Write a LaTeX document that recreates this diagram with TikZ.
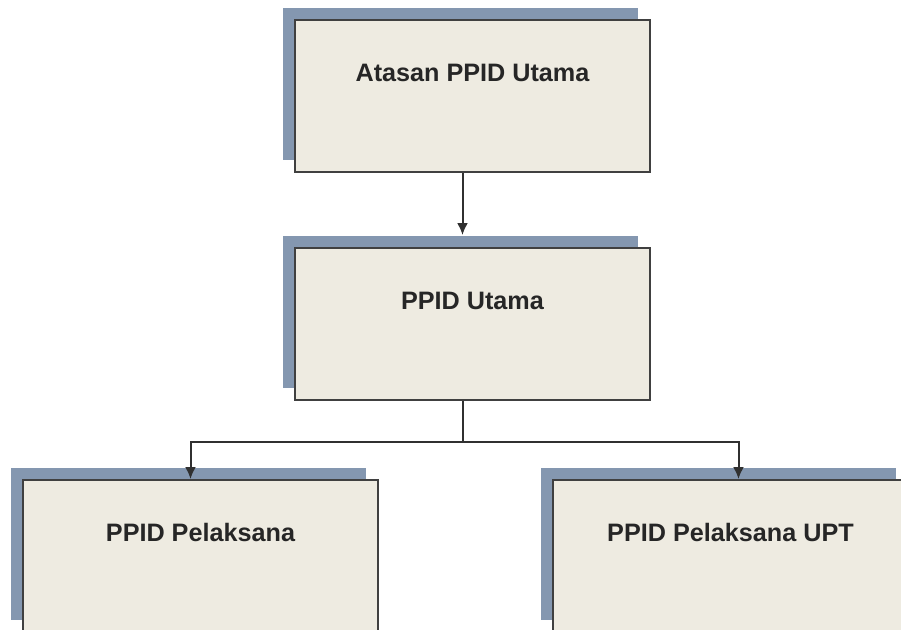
\documentclass[tikz,border=0pt]{standalone}
\usepackage{fontspec}
\setmainfont{Liberation Sans}
\usetikzlibrary{arrows.meta, positioning, shadows}

\definecolor{boxfill}{HTML}{EEEBE1}
\definecolor{boxshadow}{HTML}{8497B0}
\definecolor{boxline}{HTML}{404040}
\definecolor{linkline}{HTML}{303030}

\begin{document}
\begin{tikzpicture}[x=0.5pt, y=-0.5pt]
    \tikzstyle{orgbox}=[draw=boxline, line width=1pt, fill=boxfill, rectangle, minimum width=177.5pt, minimum height=76pt, inner sep=0pt, text height=30.5pt, text depth=45.5pt, text=black!85, font=\fontsize{12.6}{15}\selectfont\bfseries, general shadow={fill=boxshadow, shadow xshift=-6.25pt, shadow yshift=6pt}]
    \tikzstyle{link}=[draw=linkline, line width=1pt]
    \tikzstyle{linkarrow}=[link, -{Latex[length=6pt, width=5.5pt]}]

    \useasboundingbox (0, 0) rectangle (901, 629);
    \clip (0, 0) rectangle (901, 629);

    % Boxes
    \node[orgbox] (atasan) at (472.5, 96) {Atasan PPID Utama};
    \node[orgbox] (utama) at (472.5, 324) {PPID Utama};
    \node[orgbox] (pelaksana) at (200.5, 556) {PPID Pelaksana};
    \node[orgbox] (upt) at (730.5, 556) {PPID Pelaksana UPT};

    % Links
    \draw[linkarrow] ([xshift=-5pt]atasan.south) -- ([xshift=-5pt, yshift=6pt]utama.north);

    \coordinate (fork) at (462.5, 442);
    \draw[link] ([xshift=-5pt]utama.south) -- (fork);
    \draw[linkarrow] (fork) -| ([xshift=-5pt]pelaksana.north);
    \draw[linkarrow] (fork) -| ([xshift=4pt]upt.north);
\end{tikzpicture}
\end{document}
